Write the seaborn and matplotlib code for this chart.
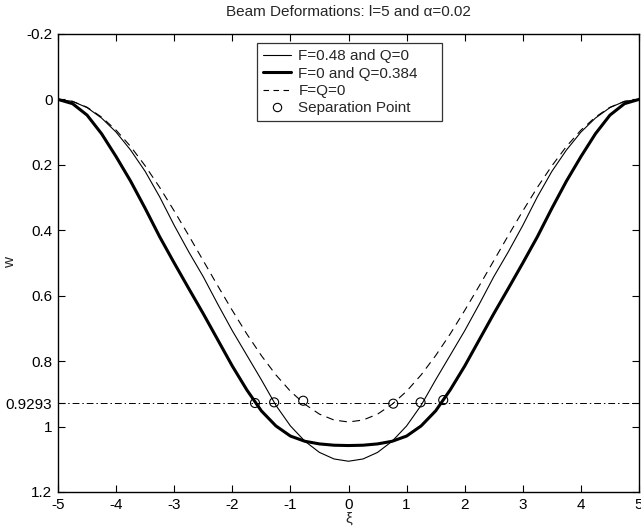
import matplotlib
matplotlib.use("Agg")
import matplotlib.pyplot as plt
import seaborn as sns
import pandas as pd
from matplotlib.lines import Line2D

# ---- data ----
xi = [-5.0, -4.75, -4.5, -4.25, -4.0, -3.75, -3.5, -3.25, -3.0, -2.75, -2.5,
      -2.25, -2.0, -1.75, -1.5, -1.25, -1.0, -0.75, -0.5, -0.25, 0.0,
      0.25, 0.5, 0.75, 1.0, 1.25, 1.5, 1.75, 2.0, 2.25, 2.5,
      2.75, 3.0, 3.25, 3.5, 3.75, 4.0, 4.25, 4.5, 4.75, 5.0]

w_F048 = [0.000, 0.006, 0.025, 0.057, 0.100, 0.155, 0.220, 0.298, 0.385, 0.466, 0.542,
          0.626, 0.707, 0.782, 0.857, 0.935, 0.998, 1.045, 1.079, 1.099, 1.106,
          1.099, 1.079, 1.045, 0.998, 0.935, 0.857, 0.782, 0.707, 0.626, 0.542,
          0.466, 0.385, 0.298, 0.220, 0.155, 0.100, 0.057, 0.025, 0.006, 0.000]

w_Q0384 = [0.000, 0.013, 0.048, 0.105, 0.175, 0.250, 0.333, 0.420, 0.500, 0.578, 0.655,
           0.735, 0.815, 0.888, 0.952, 0.998, 1.029, 1.045, 1.053, 1.057, 1.058,
           1.057, 1.053, 1.045, 1.029, 0.998, 0.952, 0.888, 0.815, 0.735, 0.655,
           0.578, 0.500, 0.420, 0.333, 0.250, 0.175, 0.105, 0.048, 0.013, 0.000]

w_free = [0.000, 0.006, 0.024, 0.054, 0.094, 0.144, 0.203, 0.269, 0.341, 0.416, 0.493,
          0.570, 0.645, 0.717, 0.783, 0.842, 0.892, 0.932, 0.962, 0.980, 0.986,
          0.980, 0.962, 0.932, 0.892, 0.842, 0.783, 0.717, 0.645, 0.570, 0.493,
          0.416, 0.341, 0.269, 0.203, 0.144, 0.094, 0.054, 0.024, 0.006, 0.000]

sep_x = [-1.61, -1.28, -0.78, 0.77, 1.24, 1.63]
sep_w = [0.928, 0.926, 0.921, 0.930, 0.926, 0.919]

sep_level = 0.9293
y_ticks = [-0.2, 0, 0.2, 0.4, 0.6, 0.8, 0.9293, 1, 1.2]
y_tick_labels = ["-0.2", "0", "0.2", "0.4", "0.6", "0.8", "0.9293", "1", "1.2"]
x_ticks = [-5, -4, -3, -2, -1, 0, 1, 2, 3, 4, 5]
x_tick_labels = ["-5", "-4", "-3", "-2", "-1", "0", "1", "2", "3", "4", "5"]

labels = ["F=0.48 and Q=0", "F=0 and Q=0.384", "F=Q=0", "Separation Point"]

# ---- plot ----
sns.set_style("ticks")
plt.rcParams["font.family"] = ["Liberation Sans", "DejaVu Sans"]

fig = plt.figure(figsize=(6.41, 5.30), dpi=100)
ax = fig.add_axes([0.0905, 0.0717, 0.9064, 0.8642])

df = pd.DataFrame({"xi": xi, "a": w_F048, "b": w_Q0384, "c": w_free})

ax.axhline(sep_level, color="black", lw=0.7, dashes=(7, 3, 1.5, 3))

sns.lineplot(data=df, x="xi", y="a", ax=ax, color="black", lw=0.8, sort=False)
sns.lineplot(data=df, x="xi", y="b", ax=ax, color="black", lw=2.2, sort=False)
sns.lineplot(data=df, x="xi", y="c", ax=ax, color="black", lw=0.8, sort=False,
             dashes=False, linestyle=(0, (7, 5)))

ax.scatter(sep_x, sep_w, s=42, facecolors="none", edgecolors="black",
           linewidths=0.8, zorder=5)

ax.set_xlim(-5, 5)
ax.set_ylim(1.2, -0.2)
ax.set_xticks(x_ticks)
ax.set_xticklabels(x_tick_labels)
ax.set_yticks(y_ticks)
ax.set_yticklabels(y_tick_labels)
ax.tick_params(direction="in", length=5, width=0.8, top=True, right=True,
               labelsize=11, colors="black", pad=4)
for sp in ax.spines.values():
    sp.set_visible(True)
    sp.set_linewidth(1.0)
    sp.set_color("black")

ax.set_xlabel("ξ", fontsize=11, labelpad=0)
ax.set_ylabel("w", fontsize=11)
ax.yaxis.set_label_coords(-0.07, 0.5)
ax.set_title("Beam Deformations: l=5 and α=0.02", fontsize=11, pad=13)

handles = [
    Line2D([], [], color="black", lw=0.8),
    Line2D([], [], color="black", lw=2.2),
    Line2D([], [], color="black", lw=0.8, linestyle=(0, (5, 4))),
    Line2D([], [], color="black", lw=0, marker="o", markersize=6,
           markerfacecolor="none", markeredgecolor="black", markeredgewidth=0.8),
]
# legend box in axes fraction: x 0.3425..0.661, top 0.98
leg = ax.legend(handles, labels, loc="upper left",
                bbox_to_anchor=(0.3425, 0.80, 0.3185, 0.18), mode="expand",
                frameon=True, fancybox=False, edgecolor="black", fontsize=11,
                handlelength=1.8, handletextpad=0.5, borderpad=0.4,
                labelspacing=0.22, borderaxespad=0)
leg.get_frame().set_linewidth(0.9)

fig.savefig("out.png", dpi=100)
